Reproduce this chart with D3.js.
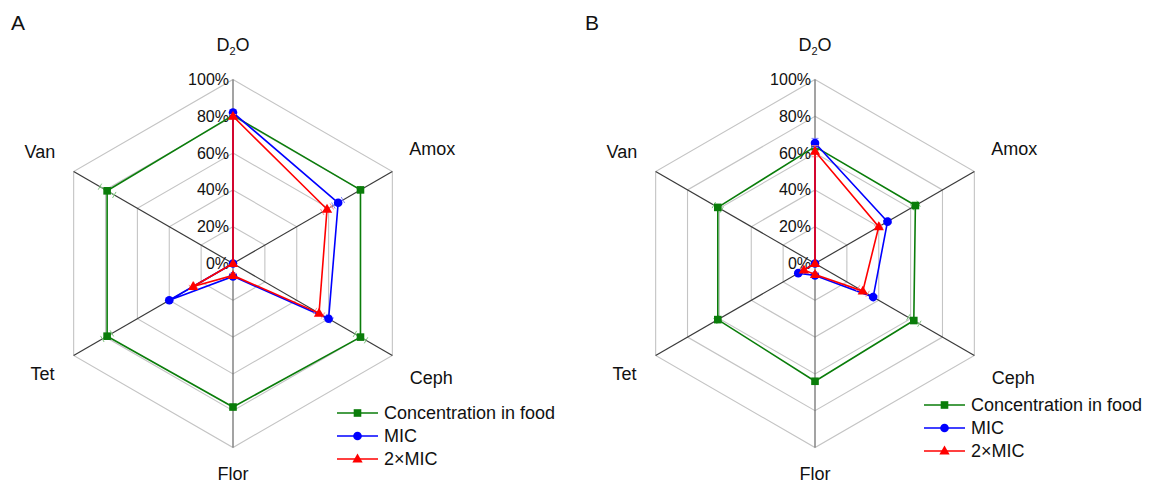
<!DOCTYPE html>
<html><head><meta charset="utf-8">
<script src="https://cdn.jsdelivr.net/npm/d3@7"></script>
<style>
body{margin:0;background:#fff;}
svg{display:block;font-family:"Liberation Sans",Arial,sans-serif;}
</style></head>
<body><svg id="chart" width="1150" height="486"></svg>
<script>
// ---------- data ----------
const axesNames = ["D2O","Amox","Ceph","Flor","Tet","Van"];
const tickValues = [0,20,40,60,80,100];
const seriesNames = ["Concentration in food","MIC","2×MIC"];

const foodA = [80.5, 80, 80, 78, 79, 79];
const micA  = [82, 66, 60, 7, 40, 0];
const mic2A = [80, 59, 54, 6.5, 25, 0];
const errFoodA = [1, 1, 3.5, 1, 3, 4.5];
const errMicA  = [1.5, 3, 2, 1, 1, 0];
const errMic2A = [1, 3, 2.5, 1, 1.5, 0];

const foodB = [63.5, 63, 62, 64, 61, 61];
const micB  = [65.5, 45.5, 36.5, 6.5, 10.5, 0];
const mic2B = [61, 40, 30, 6, 7, 0];
const errFoodB = [1, 2, 3.5, 1, 1.5, 2.5];
const errMicB  = [2.5, 1.5, 1.5, 1, 1, 0];
const errMic2B = [3, 1.5, 3, 1, 1, 0];

// ---------- styles ----------
const colors = ["#0a7d0a","#0000ff","#ff0000"];
const errColors = ["#7fc47f","#8080ff","#ff8c8c"];
const R = 184;
const labelR = [219, 230, 229, 210, 220, 223];

const svg = d3.select("#chart");
const r = d3.scaleLinear().domain([0,100]).range([0,R]);
const ang = d3.scaleLinear().domain([0,axesNames.length]).range([0,2*Math.PI]);
const pt = (i,v,cx,cy)=>[cx + r(v)*Math.sin(ang(i)), cy - r(v)*Math.cos(ang(i))];

function radar(cx, cy, data, errs, legendPos, panel, panelPos){
  const g = svg.append("g");
  tickValues.filter(t=>t>0).forEach(t=>{
    g.append("polygon")
      .attr("points", axesNames.map((_,i)=>pt(i,t,cx,cy).join(",")).join(" "))
      .attr("fill","none").attr("stroke","#c4c4c4").attr("stroke-width",1.1);
  });
  axesNames.forEach((_,i)=>{
    const p = pt(i,100,cx,cy);
    g.append("line").attr("x1",cx).attr("y1",cy).attr("x2",p[0]).attr("y2",p[1])
      .attr("stroke", (i%3===0)?"#666":"#3a3a3a").attr("stroke-width",1.2);
  });
  tickValues.forEach(t=>{
    g.append("text").attr("x",cx-4).attr("y",cy-r(t))
      .attr("text-anchor","end").attr("dominant-baseline","central")
      .attr("font-size","16px").attr("fill","#111").text(t+"%");
  });
  axesNames.forEach((name,i)=>{
    const x = cx + labelR[i]*Math.sin(ang(i)), y = cy - labelR[i]*Math.cos(ang(i));
    const t = g.append("text").attr("x",x).attr("y",y)
      .attr("text-anchor","middle").attr("dominant-baseline","central")
      .attr("font-size","18px").attr("fill","#111");
    if(name==="D2O"){
      t.append("tspan").text("D");
      t.append("tspan").attr("font-size","11px").attr("dy","6").text("2");
      t.append("tspan").attr("dy","-6").text("O");
    } else t.text(name);
  });
  const line = d3.line().curve(d3.curveLinearClosed);
  data.forEach((vals,s)=>{
    vals.forEach((v,i)=>{
      const e = errs[s][i]; if(!e) return;
      const a = ang(i), ux=Math.sin(a), uy=-Math.cos(a), px=-uy, py=ux;
      const p1 = pt(i,v-e,cx,cy), p2 = pt(i,v+e,cx,cy);
      g.append("line").attr("x1",p1[0]).attr("y1",p1[1]).attr("x2",p2[0]).attr("y2",p2[1])
        .attr("stroke",errColors[s]).attr("stroke-width",1);
      [p1,p2].forEach(p=>g.append("line")
        .attr("x1",p[0]-px*3.5).attr("y1",p[1]-py*3.5).attr("x2",p[0]+px*3.5).attr("y2",p[1]+py*3.5)
        .attr("stroke",errColors[s]).attr("stroke-width",1));
    });
    g.append("path").attr("d", line(vals.map((v,i)=>pt(i,v,cx,cy))))
      .attr("fill","none").attr("stroke",colors[s]).attr("stroke-width",1.6);
    vals.forEach((v,i)=>{
      const p = pt(i,v,cx,cy);
      marker(g,s,p[0],p[1]);
    });
  });
  seriesNames.forEach((n,s)=>{
    const y = legendPos[1] + s*23;
    g.append("line").attr("x1",legendPos[0]).attr("x2",legendPos[0]+41).attr("y1",y).attr("y2",y)
      .attr("stroke",colors[s]).attr("stroke-width",1.6);
    marker(g,s,legendPos[0]+20.5,y);
    g.append("text").attr("x",legendPos[0]+47).attr("y",y).attr("dominant-baseline","central")
      .attr("font-size","18px").attr("fill","#111").text(n);
  });
  svg.append("text").attr("x",panelPos[0]).attr("y",panelPos[1]).attr("font-size","21px")
    .attr("fill","#111").text(panel);
}
function marker(g,s,x,y){
  if(s===0) g.append("rect").attr("x",x-3.8).attr("y",y-3.8).attr("width",7.6).attr("height",7.6).attr("fill",colors[0]);
  else if(s===1) g.append("circle").attr("cx",x).attr("cy",y).attr("r",4.3).attr("fill",colors[1]);
  else g.append("path").attr("d",d3.symbol(d3.symbolTriangle,46)()).attr("transform",`translate(${x},${y+0.5})`).attr("fill",colors[2]);
}

radar(233, 263.5, [foodA,micA,mic2A], [errFoodA,errMicA,errMic2A], [337,413], "A", [11,30]);
radar(815, 263.5, [foodB,micB,mic2B], [errFoodB,errMicB,errMic2B], [924,405], "B", [585,30]);
</script></body></html>
